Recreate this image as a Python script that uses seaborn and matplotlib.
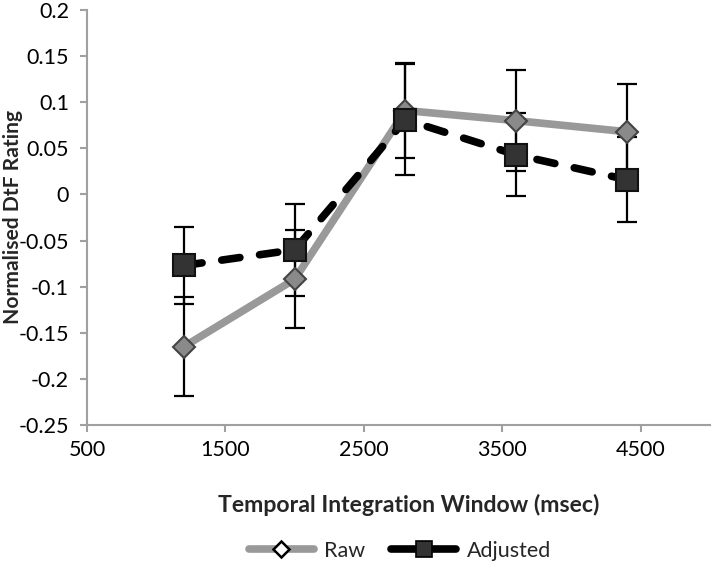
import matplotlib
matplotlib.use("Agg")
import matplotlib.pyplot as plt
import seaborn as sns
import pandas as pd
from matplotlib.lines import Line2D

# ---- data ----
window_ms = [1200, 2000, 2800, 3600, 4400]
raw_values = [-0.165, -0.092, 0.091, 0.080, 0.068]
raw_err = [0.054, 0.053, 0.052, 0.055, 0.052]
adjusted_values = [-0.077, -0.060, 0.081, 0.043, 0.016]
adjusted_err = [0.042, 0.050, 0.060, 0.045, 0.046]
series_names = ["Raw", "Adjusted"]
x_ticks = [500, 1500, 2500, 3500, 4500]
y_ticks = [-0.25, -0.2, -0.15, -0.1, -0.05, 0, 0.05, 0.1, 0.15, 0.2]
y_tick_labels = ["-0.25", "-0.2", "-0.15", "-0.1", "-0.05", "0", "0.05", "0.1", "0.15", "0.2"]
x_title = "Temporal Integration Window (msec)"
y_title = "Normalised DtF Rating"

df = pd.DataFrame({
    "x": window_ms * 2,
    "y": raw_values + adjusted_values,
    "err": raw_err + adjusted_err,
    "series": [series_names[0]] * 5 + [series_names[1]] * 5,
})

sns.set_style("white")
plt.rcParams["font.family"] = ["Lato", "DejaVu Sans"]

fig = plt.figure(figsize=(7.15, 5.69), dpi=100)
ax = fig.add_axes([87 / 715, 1 - 425 / 569, (710 - 87) / 715, (425 - 10) / 569])

# error bars (behind markers)
for name in series_names:
    sub = df[df["series"] == name]
    ax.errorbar(sub["x"], sub["y"], yerr=sub["err"], fmt="none", ecolor="black",
                elinewidth=1.6, capsize=7, capthick=1.6, zorder=2)

raw = df[df["series"] == "Raw"]
adj = df[df["series"] == "Adjusted"]

sns.lineplot(data=raw, x="x", y="y", ax=ax, color="#999999", linewidth=5.5,
             marker="D", markersize=11, markerfacecolor="#8a8a8a",
             markeredgecolor="#444444", markeredgewidth=1.5, zorder=3,
             solid_capstyle="round", legend=False)
sns.lineplot(data=adj, x="x", y="y", ax=ax, color="black", linewidth=5.5,
             marker="s", markersize=15.5, markerfacecolor="#333333",
             markeredgecolor="#111111", markeredgewidth=1.5, zorder=4,
             dashes=False, legend=False)
adj_line = ax.lines[-1]
adj_line.set_dashes([2.4, 2.6])
adj_line.set_dash_capstyle("round")

ax.set_xlim(500, 5000)
ax.set_ylim(-0.25, 0.2)
ax.set_xticks(x_ticks)
ax.set_xticklabels([str(v) for v in x_ticks])
ax.set_yticks(y_ticks)
ax.set_yticklabels(y_tick_labels)
ax.set_xlabel("")
ax.set_ylabel("")

for side in ["top", "right"]:
    ax.spines[side].set_visible(False)
for side in ["left", "bottom"]:
    ax.spines[side].set_color("#a0a0a0")
    ax.spines[side].set_linewidth(1.5)
ax.tick_params(axis="both", which="major", direction="out", length=5, width=1.5,
               color="#a0a0a0", labelsize=15.5, labelcolor="black", pad=6,
               left=True, bottom=True)
ax.tick_params(axis="y", pad=8)

xt = fig.text(409 / 715, 1 - 505 / 569, x_title, ha="center", va="center",
              fontsize=15, fontweight="bold")
yt = fig.text(13 / 715, 1 - 217 / 569, y_title, ha="center", va="center",
              rotation=90, fontsize=15, fontweight="bold")

# size titles to the reference's measured extents
fig.canvas.draw()
r = fig.canvas.get_renderer()
w = xt.get_window_extent(r).width
xt.set_fontsize(15 * 382 / w)
h = yt.get_window_extent(r).height
yt.set_fontsize(15 * 213 / h)

handles = [
    Line2D([0], [0], color="#999999", linewidth=5.5, marker="D", markersize=8,
           markerfacecolor="white", markeredgecolor="black", markeredgewidth=1.8,
           solid_capstyle="round"),
    Line2D([0], [0], color="black", linewidth=5.5, marker="s", markersize=11,
           markerfacecolor="#333333", markeredgecolor="black", markeredgewidth=1.2,
           solid_capstyle="round"),
]
fig.legend(handles, series_names, loc="center", bbox_to_anchor=(400 / 715, 1 - 551 / 569),
           ncol=2, frameon=False, fontsize=15.5, handlelength=3.0, columnspacing=1.2,
           handletextpad=0.5)

fig.savefig("out.png", dpi=100)
